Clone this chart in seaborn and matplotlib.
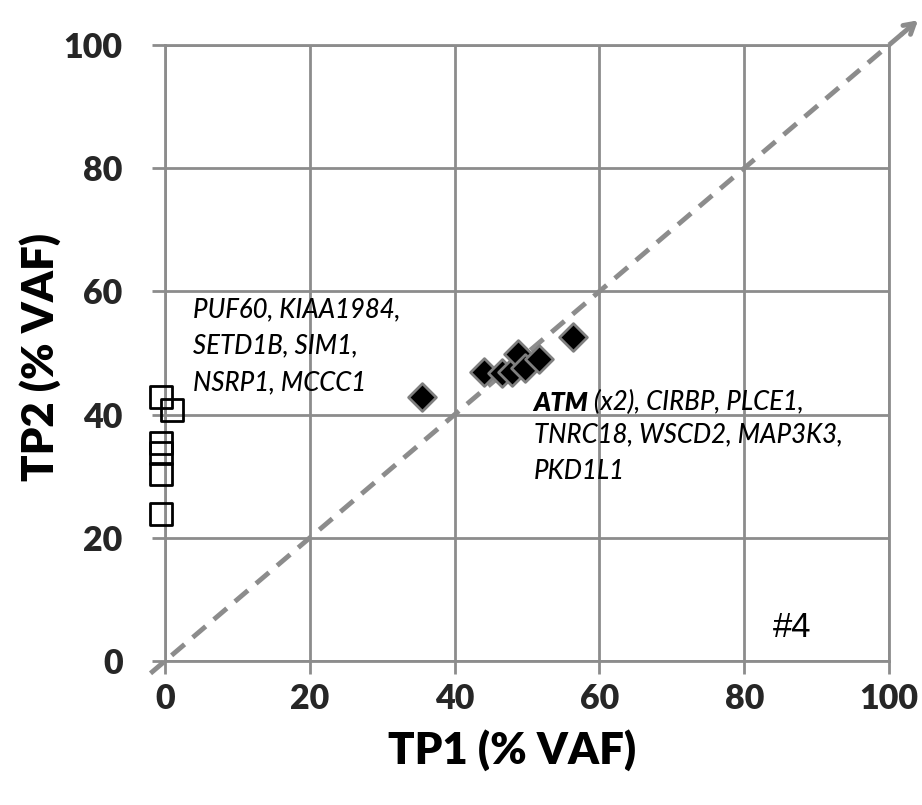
import matplotlib
matplotlib.use("Agg")
import matplotlib.pyplot as plt
import seaborn as sns
import pandas as pd

# TP1 = 0 group (open squares)
sq_tp1 = [-0.5, 1.0, -0.5, -0.5, -0.5, -0.5]
sq_tp2 = [42.8, 40.7, 35.4, 33.8, 30.3, 23.8]

# shared group (filled diamonds)
dm_tp1 = [35.5, 44.0, 46.5, 47.9, 48.8, 49.7, 51.6, 56.4]
dm_tp2 = [42.8, 46.9, 46.7, 46.9, 49.9, 47.5, 49.1, 52.6]

ticks = [0, 20, 40, 60, 80, 100]
label_left = "PUF60, KIAA1984,\nSETD1B, SIM1,\nNSRP1, MCCC1"
label_right_bold = "ATM"
label_right_rest1 = " (x2), CIRBP, PLCE1,"
label_right_rest2 = "TNRC18, WSCD2, MAP3K3,\nPKD1L1"
panel = "#4"

sns.set_theme(style="white")
plt.rcParams['font.family'] = ['Lato', 'DejaVu Sans']

GRAY = "#8c8c8c"
fig = plt.figure(figsize=(9.22, 8.05), dpi=100)
ax = fig.add_axes([165/922, 1-661/805, (889-165)/922, (661-45)/805])

df_sq = pd.DataFrame({"TP1": sq_tp1, "TP2": sq_tp2})
df_dm = pd.DataFrame({"TP1": dm_tp1, "TP2": dm_tp2})

ax.set_xlim(0, 100)
ax.set_ylim(0, 100)
ax.set_xticks(ticks)
ax.set_yticks(ticks)
ax.grid(True, color=GRAY, linewidth=2)
ax.set_axisbelow(True)
for s in ax.spines.values():
    s.set_color(GRAY)
    s.set_linewidth(2)
ax.tick_params(axis='both', which='both', length=9.5, width=2, color=GRAY,
               direction='out', labelsize=24.5, bottom=True, left=True)
ax.tick_params(axis='y', pad=21)
ax.tick_params(axis='x', pad=6)
for lab in ax.get_xticklabels() + ax.get_yticklabels():
    lab.set_fontweight('heavy')

# diagonal reference line with arrow
ax.plot([-2, 102.5], [-2, 102.5], ls=(0, (3.5, 2.2)), color=GRAY, lw=3.5,
        clip_on=False, zorder=2)
ax.annotate('', xy=(104.3, 104.3), xytext=(101.5, 101.5),
            arrowprops=dict(arrowstyle='->,head_length=0.6,head_width=0.35',
                            color=GRAY, lw=3.5),
            annotation_clip=False, zorder=2)

sns.scatterplot(data=df_sq, x="TP1", y="TP2", marker='s', s=250,
                facecolor='none', edgecolor='black', linewidth=2,
                ax=ax, clip_on=False, zorder=4)
sns.scatterplot(data=df_dm, x="TP1", y="TP2", marker='D', s=200,
                color='black', edgecolor='#7f7f7f', linewidth=2,
                ax=ax, clip_on=False, zorder=4)

ax.set_xlabel("")
ax.set_ylabel("")
ax.set_xlim(0, 100)
ax.set_ylim(0, 100)

FS = 18.5
# va='baseline' anchors the last line's baseline for multi-line text
ax.text(3.9, 44.0, label_left, style='italic', fontsize=FS, va='baseline',
        ha='left', linespacing=1.57, fontweight='medium', color='black')
t1 = ax.text(50.9, 40.6, label_right_bold, style='italic', fontweight='heavy',
             fontsize=FS, va='baseline', ha='left', color='black')
ax.annotate(label_right_rest1, xy=(1, 0), xycoords=t1, style='italic',
            fontsize=FS, va='bottom', ha='left', fontweight='medium',
            color='black')
ax.text(50.9, 29.6, label_right_rest2, style='italic', fontsize=FS,
        va='baseline', ha='left', linespacing=1.57, fontweight='medium',
        color='black')
ax.text(86.6, 5.4, panel, fontsize=25, family='Liberation Sans',
        ha='center', va='center', color='black')

fig.text(512/922, 1-750/805, "TP1 (% VAF)", fontsize=31.5, fontweight='heavy',
         ha='center', va='center', color='black')
fig.text(40/922, 1-357/805, "TP2 (% VAF)", fontsize=31.5, fontweight='heavy',
         ha='center', va='center', rotation=90, color='black')

fig.savefig("out.png", dpi=100)
